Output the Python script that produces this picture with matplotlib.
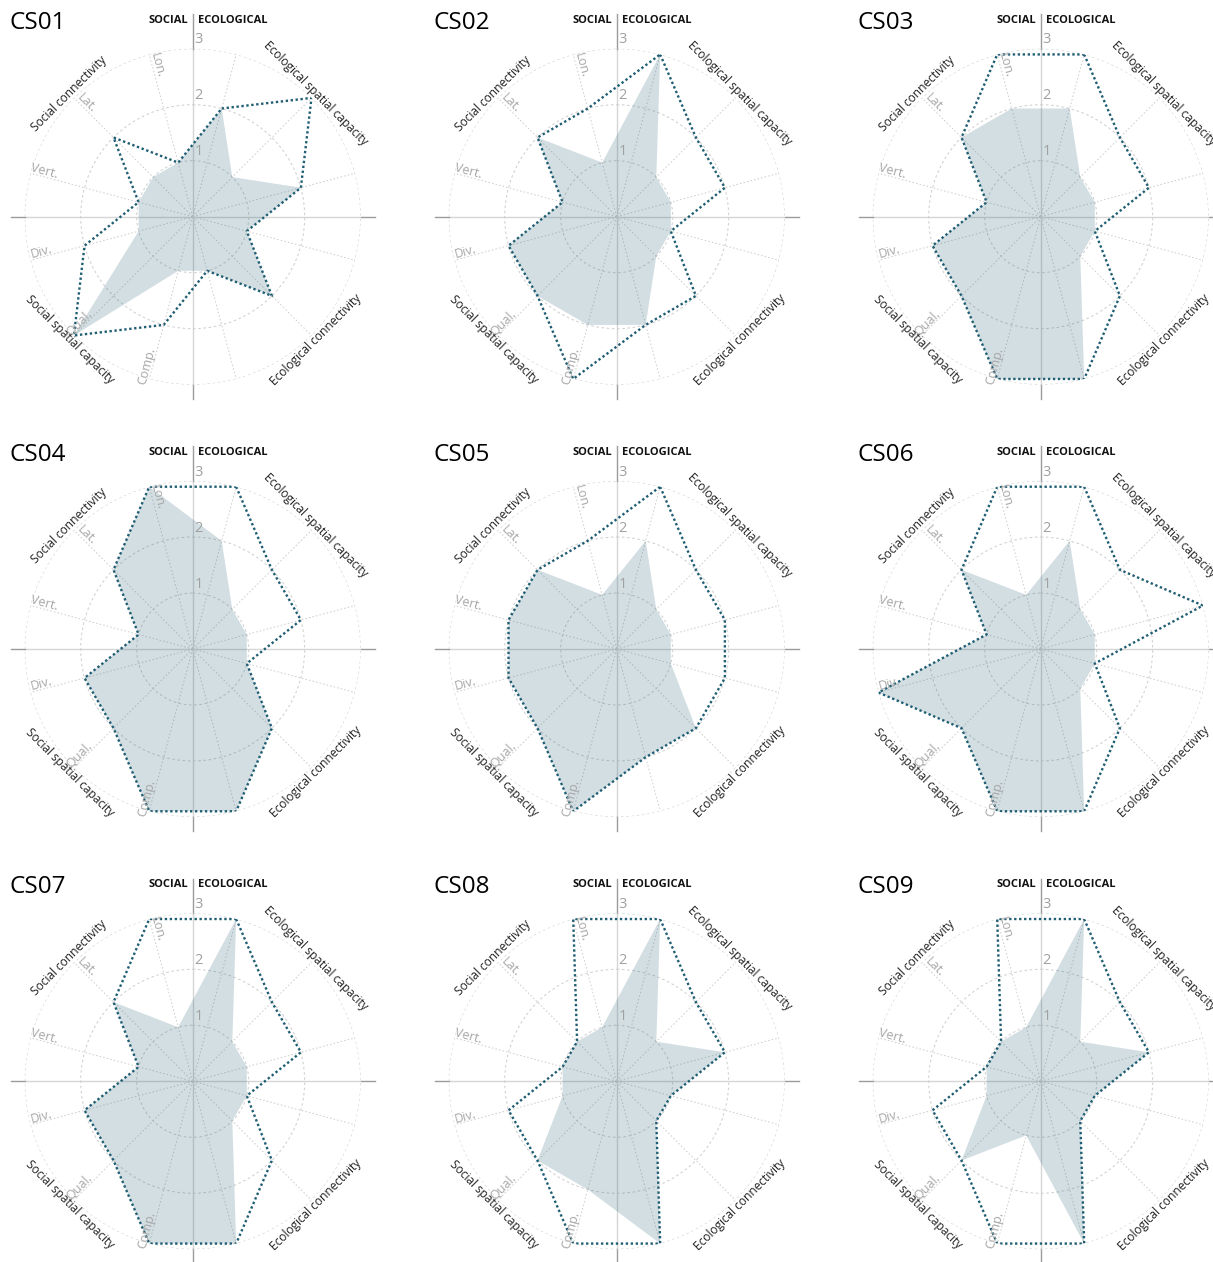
"""
Radar charts of social / ecological indicator scores for case studies CS01-CS09.
"""

import numpy as np
import matplotlib
matplotlib.use("Agg")
import matplotlib.pyplot as plt

plt.rcParams["font.family"] = ["Open Sans", "DejaVu Sans"]

# ── data ──────────────────────────────────────────────────────────────────────
CASES = ["CS01", "CS02", "CS03", "CS04", "CS05", "CS06", "CS07", "CS08", "CS09"]

# 12 indicator axes, clockwise from north: 6 ecological then 6 social
AXIS_DEG = np.arange(15, 360, 30)
SOCIAL_TICKS = ["Comp.", "Qual.", "Div.", "Vert.", "Lat.", "Lon."]   # axes 6..11

GROUPS    = ["Ecological spatial capacity", "Ecological connectivity",
             "Social spatial capacity", "Social connectivity"]
GROUP_DEG = [45, 135, 225, 315]

# shaded area (one row per case, same axis order as AXIS_DEG)
SCORE_FILL = [
    [2, 1, 2, 1, 2, 1, 1, 3, 1, 1, 1, 1],
    [3, 1, 1, 1, 1, 2, 2, 2, 2, 1, 2, 1],
    [2, 1, 1, 1, 1, 3, 3, 2, 2, 1, 2, 2],
    [2, 1, 1, 1, 2, 3, 3, 2, 2, 1, 2, 3],
    [2, 1, 1, 1, 2, 2, 3, 2, 2, 2, 2, 1],
    [2, 1, 1, 1, 1, 3, 3, 2, 3, 1, 2, 1],
    [3, 1, 1, 1, 1, 3, 3, 2, 2, 1, 2, 1],
    [3, 1, 2, 1, 1, 3, 2, 2, 1, 1, 1, 1],
    [3, 1, 2, 1, 1, 3, 1, 2, 1, 1, 1, 1],
]

# dotted outline
SCORE_MAX = [
    [2, 3, 2, 1, 2, 1, 2, 3, 2, 1, 2, 1],
    [3, 2, 2, 1, 2, 2, 3, 2, 2, 1, 2, 2],
    [3, 2, 2, 1, 2, 3, 3, 2, 2, 1, 2, 3],
    [3, 2, 2, 1, 2, 3, 3, 2, 2, 1, 2, 3],
    [3, 2, 2, 2, 2, 2, 3, 2, 2, 2, 2, 2],
    [3, 2, 3, 1, 2, 3, 3, 2, 3, 1, 2, 3],
    [3, 2, 2, 1, 2, 3, 3, 2, 2, 1, 2, 3],
    [3, 2, 2, 1, 1, 3, 3, 2, 2, 1, 1, 3],
    [3, 2, 2, 1, 1, 3, 3, 2, 2, 1, 1, 3],
]

# ── layout ────────────────────────────────────────────────────────────────────
W, H, DPI = 1213, 1262, 100
R_PX = 168                      # radius of the r=3 circle in pixels
X0, Y0, DX, DY = 192.7, 216.7, 424.0, 432.3

TEAL  = "#1f5d72"
GRID  = "#d0d0d0"
LIGHT = "#a6a6a6"

fig = plt.figure(figsize=(W / DPI, H / DPI), dpi=DPI)

theta = np.deg2rad(AXIS_DEG)
theta_c = np.append(theta, theta[0])

for k, case in enumerate(CASES):
    row, col = divmod(k, 3)
    cx = X0 + DX * col
    cy = Y0 + DY * row
    ax = fig.add_axes([(cx - R_PX) / W, 1 - (cy + R_PX) / H, 2 * R_PX / W, 2 * R_PX / H],
                      projection="polar")
    ax.set_theta_zero_location("N")
    ax.set_theta_direction(-1)
    ax.set_ylim(0, 3)
    ax.spines["polar"].set_visible(False)
    ax.set_thetagrids(AXIS_DEG, [""] * len(AXIS_DEG))
    ax.set_rgrids([1, 2, 3], [""] * 3)
    ax.xaxis.grid(True, color=GRID, lw=0.75, ls=(0, (1.5, 2.0)))
    ax.yaxis.grid(True, color=GRID, lw=0.75, ls=(0, (2.5, 2.5)))

    # social / ecological cross
    for a in [0, np.pi / 2, np.pi, 3 * np.pi / 2]:
        ax.plot([a, a], [0, 3], color="#d6d6d6", lw=1.0, zorder=1)
        ax.plot([a, a], [3, 3.62 if a == 0 else 3.25], color="#9c9c9c", lw=1.0,
                clip_on=False, zorder=1)

    fill_c = np.append(SCORE_FILL[k], SCORE_FILL[k][0])
    max_c  = np.append(SCORE_MAX[k], SCORE_MAX[k][0])
    ax.fill(theta_c, fill_c, color=TEAL, alpha=0.2, lw=0, zorder=2)
    ax.plot(theta_c, max_c, color=TEAL, lw=1.7, ls=(0, (1, 1.1)), zorder=3)

    # radial values
    for v in [1, 2, 3]:
        ax.annotate(str(v), xy=(0, v), xytext=(6, 9), textcoords="offset pixels",
                    ha="center", va="center", color="#a0a0a0", fontsize=10.5)

    # social sub-indicator names
    for i, lab in enumerate(SOCIAL_TICKS):
        deg = AXIS_DEG[6 + i]
        rot = ((90 - deg) % 360) - 180
        ax.text(np.deg2rad(deg + 2), 2.78, lab, rotation=rot, rotation_mode="anchor",
                ha="center", va="center", color=LIGHT, fontsize=9)

    # group names round the rim
    for lab, deg in zip(GROUPS, GROUP_DEG):
        rot = (-deg) % 180
        if rot > 90:
            rot -= 180
        ax.text(np.deg2rad(deg), 3.11, lab, rotation=rot, rotation_mode="anchor",
                ha="center", va="center", color="#222222", fontsize=8.6)

    ax.annotate("SOCIAL", xy=(0.5, 0.5), xycoords="axes fraction", xytext=(-5, 196.5),
                textcoords="offset pixels", ha="right", va="center",
                fontsize=8, fontweight="bold", color="#111111")
    ax.annotate("ECOLOGICAL", xy=(0.5, 0.5), xycoords="axes fraction", xytext=(5, 196.5),
                textcoords="offset pixels", ha="left", va="center",
                fontsize=8, fontweight="bold", color="#111111")
    ax.annotate(case, xy=(0.5, 0.5), xycoords="axes fraction", xytext=(-183, 194),
                textcoords="offset pixels", ha="left", va="center",
                fontsize=17.5, color="#000000")

fig.savefig("out.png", dpi=DPI)
